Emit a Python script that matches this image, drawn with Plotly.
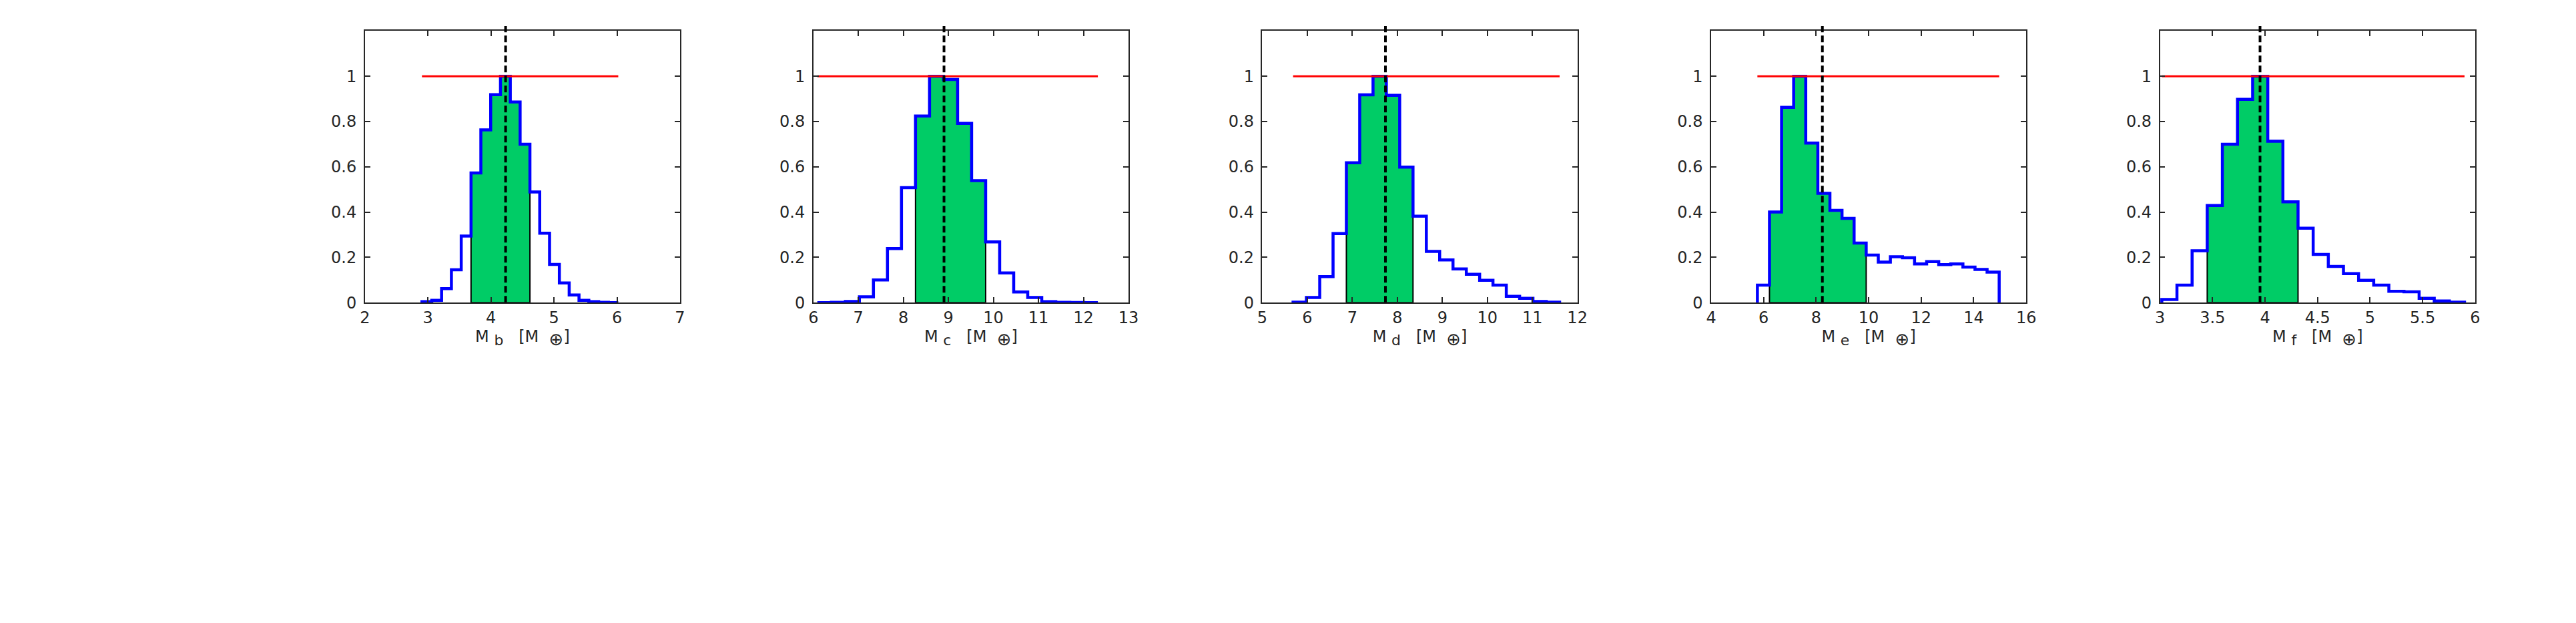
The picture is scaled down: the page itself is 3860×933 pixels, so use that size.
import numpy as np
import plotly.graph_objects as go

# --- data (normalised histograms, 20 bins each) ---
planets = ["b", "c", "d", "e", "f"]

# histogram range (first / last bin edge) per planet
hist_lo = [2.905, 6.088, 5.684, 5.762, 3.017]
hist_hi = [6.020, 12.320, 11.605, 14.970, 5.899]

counts_b = [0.004, 0.010, 0.062, 0.145, 0.294, 0.573, 0.763, 0.919, 1.000, 0.886,
            0.700, 0.489, 0.307, 0.169, 0.087, 0.034, 0.010, 0.004, 0.001, 0.000]
counts_c = [0.000, 0.001, 0.005, 0.026, 0.100, 0.239, 0.508, 0.824, 1.000, 0.986,
            0.792, 0.539, 0.268, 0.131, 0.047, 0.023, 0.004, 0.001, 0.0005, 0.000]
counts_d = [0.002, 0.023, 0.115, 0.305, 0.618, 0.918, 1.000, 0.916, 0.599, 0.382,
            0.226, 0.189, 0.149, 0.125, 0.099, 0.077, 0.028, 0.019, 0.005, 0.002]
counts_e = [0.077, 0.400, 0.863, 1.000, 0.705, 0.483, 0.408, 0.372, 0.263, 0.210,
            0.179, 0.203, 0.198, 0.171, 0.181, 0.168, 0.171, 0.157, 0.147, 0.135]
counts_f = [0.014, 0.077, 0.229, 0.429, 0.700, 0.898, 1.000, 0.713, 0.445, 0.329,
            0.213, 0.160, 0.128, 0.099, 0.077, 0.050, 0.048, 0.019, 0.007, 0.002]
counts = [counts_b, counts_c, counts_d, counts_e, counts_f]

# shaded credible interval: first and last bin index (0-based, inclusive)
ci_first = [5, 7, 4, 1, 3]
ci_last = [10, 11, 8, 8, 8]

# median of each posterior
medians = [4.232, 8.902, 7.736, 8.237, 3.952]

# axis ranges and tick steps
x_ranges = [[2, 7], [6, 13], [5, 12], [4, 16], [3, 6]]
x_dticks = [1, 1, 1, 2, 0.5]
y_ticks = [0, 0.2, 0.4, 0.6, 0.8, 1]
y_ticklabels = ["0", "0.2", "0.4", "0.6", "0.8", "1"]

# --- page geometry (pixels of a 3860x933 page) ---
W, H = 3860, 933
panel_left = [534, 1210, 1886.7, 2563.3, 3240]
panel_w = 475
ax_top, ax_bot = 39, 452

FONT = "DejaVu Sans, Liberation Sans, Arial, sans-serif"
FS = 24
INK = "#262626"
GREEN = "#00CC66"


def xlabel(name):
    # subscripts kept close to full size, like the original rendering
    sub = "<sub><span style='font-size:%dpx'>%s</span></sub>"
    return "M " + sub % (FS - 2, name) + "   [M  " + sub % (FS + 2, "⊕") + "]"


fig = go.Figure()

for i, p in enumerate(planets):
    xa = "x" if i == 0 else f"x{i + 1}"
    ya = "y" if i == 0 else f"y{i + 1}"
    vals = counts[i]
    edges = np.linspace(hist_lo[i], hist_hi[i], len(vals) + 1)

    # shaded interval polygon (green with thin black outline)
    px, py = [edges[ci_first[i]]], [0]
    for k in range(ci_first[i], ci_last[i] + 1):
        px += [edges[k], edges[k + 1]]
        py += [vals[k], vals[k]]
    px.append(edges[ci_last[i] + 1])
    py.append(0)
    px.append(px[0])
    py.append(0)
    fig.add_trace(go.Scatter(
        x=px, y=py, mode="lines", fill="toself", fillcolor=GREEN,
        line=dict(color="black", width=2), xaxis=xa, yaxis=ya,
        showlegend=False, hoverinfo="skip",
    ))

    # histogram outline as stairs
    sx = [edges[0]] + list(edges[:-1]) + [edges[-1], edges[-1]]
    sy = [0] + list(vals) + [vals[-1], 0]
    fig.add_trace(go.Scatter(
        x=sx, y=sy, mode="lines", line=dict(color="#0000FF", width=4.5, shape="hv"),
        xaxis=xa, yaxis=ya, showlegend=False,
    ))

    # red reference line at 1 over the histogram range
    fig.add_trace(go.Scatter(
        x=[hist_lo[i], hist_hi[i]], y=[1, 1], mode="lines",
        line=dict(color="#FF0000", width=3), xaxis=xa, yaxis=ya, showlegend=False,
    ))

    # dashed median line, slightly overshooting the top of the box
    fig.add_shape(
        type="line", xref=xa, yref=f"{ya} domain",
        x0=medians[i], x1=medians[i], y0=0, y1=1.018,
        line=dict(color="black", width=4, dash="10px,5px"), layer="above",
    )

    left = panel_left[i] / W
    right = (panel_left[i] + panel_w) / W
    axis_common = dict(
        showline=True, linecolor=INK, linewidth=1.5, mirror="ticks",
        ticks="inside", ticklen=8, tickwidth=1.5, tickcolor=INK,
        showgrid=False, zeroline=False,
        tickfont=dict(family=FONT, size=FS, color=INK),
    )
    fig.layout[f"xaxis{'' if i == 0 else i + 1}"] = dict(
        domain=[left, right], range=x_ranges[i], dtick=x_dticks[i], tick0=0,
        anchor=ya, ticklabelstandoff=0,
        title=dict(text=xlabel(p), font=dict(family=FONT, size=FS, color=INK),
                   standoff=0),
        **axis_common,
    )
    fig.layout[f"yaxis{'' if i == 0 else i + 1}"] = dict(
        domain=[1 - ax_bot / H, 1 - ax_top / H], range=[0, 1.2],
        tickvals=y_ticks, ticktext=y_ticklabels, anchor=xa,
        ticklabelstandoff=6,
        **axis_common,
    )

fig.update_layout(
    width=W, height=H,
    margin=dict(l=0, r=0, t=0, b=0),
    paper_bgcolor="white", plot_bgcolor="white",
    font=dict(family=FONT, size=FS, color=INK),
    showlegend=False,
)

fig.write_html("out.html")
